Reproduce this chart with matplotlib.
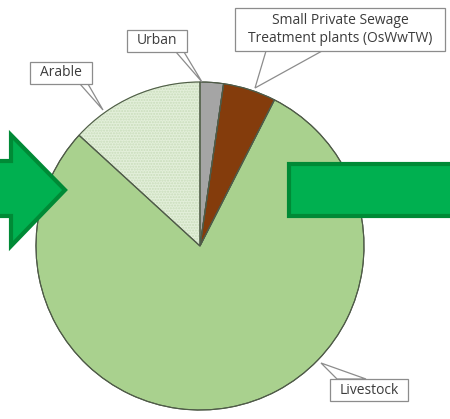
import matplotlib
matplotlib.use("Agg")
import matplotlib.pyplot as plt
from matplotlib.patches import Polygon, Rectangle

# Data (clockwise from top)
categories = ["Urban", "Small Private Sewage\nTreatment plants (OsWwTW)", "Livestock", "Arable"]
shares = [2.3, 5.2, 79.3, 13.2]
colors = ["#A5A5A5", "#843C0C", "#A9D18E", "#E3EFDA"]

W, H = 450, 419
fig = plt.figure(figsize=(4.5, 4.19), dpi=100)
ax = fig.add_axes([0, 0, 1, 1])

def py(y):
    return H - y

def lock():
    ax.set_xlim(0, W)
    ax.set_ylim(0, H)
    ax.set_aspect("equal")
    ax.axis("off")

cx, cy, r = 200, py(246), 164
wedges, _ = ax.pie(shares, colors=colors, startangle=90, counterclock=False,
                   center=(cx, cy), radius=r, frame=True,
                   wedgeprops=dict(edgecolor="#4F5B48", linewidth=0.8))
lock()

# hatch texture on arable
wedges[3].set_hatch("......")
wedges[3].set_edgecolor("#C9DDBB")
ax.pie(shares, colors=["none"] * 4, startangle=90, counterclock=False,
       center=(cx, cy), radius=r, frame=True,
       wedgeprops=dict(edgecolor="#4F5B48", linewidth=0.8, fill=False))
lock()

# labels with callout boxes: (text, box x0, y0, x1, y1 in px, wedge tip, wedge base pts)
font = "Open Sans"
labels = [
    (categories[0], (127, 30, 187, 52), (202, 82), [(176, 52), (184, 52)]),
    (categories[1], (235, 8, 445, 51), (255, 88), [(266, 51), (322, 51)]),
    (categories[2], (330, 379, 408, 401), (321, 363), [(337, 379), (366, 379)]),
    (categories[3], (30, 62, 92, 84), (103, 110), [(80, 84), (88, 84)]),
]
for text, (x0, y0, x1, y1), tip, base in labels:
    pts = [tip] + base
    ax.add_patch(Polygon([(x, py(y)) for x, y in pts], closed=True, fc="white",
                         ec="#8C8C8C", lw=0.9, zorder=3))
    ax.add_patch(Rectangle((x0, py(y1)), x1 - x0, y1 - y0, fc="white",
                           ec="#8C8C8C", lw=0.9, zorder=4))
    ax.text((x0 + x1) / 2, py((y0 + y1) / 2), text, ha="center", va="center",
            fontsize=10, family=font, color="#3C3C3C", zorder=5, linespacing=1.25)

# green arrow shapes
green, dgreen = "#00B050", "#008A36"
arrow = [(-5, 161), (11, 161), (11, 135), (65, 190), (11, 246), (11, 216), (-5, 216)]
ax.add_patch(Polygon([(x, py(y)) for x, y in arrow], closed=True, fc=green,
                     ec=dgreen, lw=3, zorder=6, joinstyle="miter"))
ax.add_patch(Rectangle((289, py(216)), 170, 52, fc=green, ec=dgreen, lw=3, zorder=6))
lock()

fig.savefig("out.png", dpi=100)
